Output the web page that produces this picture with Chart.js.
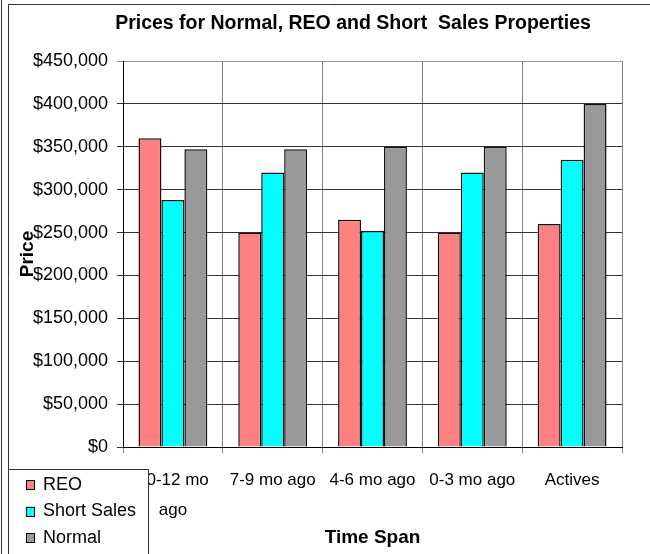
<!DOCTYPE html>
<html>
<head>
<meta charset="utf-8">
<script src="https://cdn.jsdelivr.net/npm/chart.js@4.4.1/dist/chart.umd.min.js"></script>
<style>
  html, body { margin: 0; padding: 0; background: #fff; }
</style>
</head>
<body>
<canvas id="chart" width="650" height="554"></canvas>
<script>
// Chart data
const chartTitle = "Prices for Normal, REO and Short  Sales Properties";
const categories = [["10-12 mo", "ago"], "7-9 mo ago", "4-6 mo ago", "0-3 mo ago", "Actives"];
const seriesNames = ["REO", "Short Sales", "Normal"];
const reoPrices = [360000, 250000, 265000, 250000, 260000];
const shortSalePrices = [288000, 320000, 252000, 320000, 335000];
const normalPrices = [347000, 347000, 350000, 350000, 400000];
const yMax = 450000;
const yStep = 50000;

const seriesColors = ["#ff8080", "#00ffff", "#999999"];
const fontFamily = '"Liberation Sans", Arial, sans-serif';

// Outer frame lines and the title (sits off-centre in the original)
const framePlugin = {
  id: "frame",
  beforeDraw(chart) {
    const ctx = chart.ctx;
    ctx.save();
    ctx.fillStyle = "#fff";
    ctx.fillRect(0, 0, chart.width, chart.height);
    ctx.strokeStyle = "#333";
    ctx.lineWidth = 1;
    ctx.beginPath();
    ctx.moveTo(1.5, 0);
    ctx.lineTo(1.5, chart.height);
    ctx.moveTo(8.5, chart.height);
    ctx.lineTo(8.5, 4.5);
    ctx.lineTo(chart.width, 4.5);
    ctx.stroke();
    ctx.fillStyle = "#000";
    ctx.font = "bold 19.5px " + fontFamily;
    ctx.textAlign = "center";
    ctx.textBaseline = "middle";
    ctx.fillText(chartTitle, 353, 24);
    ctx.restore();
  },
};

// Boxed legend in the lower left corner
const legendPlugin = {
  id: "boxLegend",
  afterDraw(chart) {
    const ctx = chart.ctx;
    ctx.save();
    ctx.fillStyle = "#fff";
    ctx.fillRect(9, 470, 139, 90);
    ctx.strokeStyle = "#333";
    ctx.lineWidth = 1;
    ctx.beginPath();
    ctx.moveTo(8.5, 469.5);
    ctx.lineTo(148.5, 469.5);
    ctx.lineTo(148.5, chart.height);
    ctx.stroke();
    ctx.font = "18px " + fontFamily;
    ctx.textBaseline = "middle";
    chart.data.datasets.forEach((ds, i) => {
      const y = 485 + i * 26.5;
      ctx.fillStyle = ds.backgroundColor;
      ctx.fillRect(26, y - 5, 9, 10);
      ctx.strokeStyle = "#000";
      ctx.strokeRect(26.5, Math.round(y - 5) + 0.5, 8, 9);
      ctx.fillStyle = "#000";
      ctx.fillText(ds.label, 43, y);
    });
    ctx.restore();
  },
};

new Chart(document.getElementById("chart"), {
  type: "bar",
  data: {
    labels: categories,
    datasets: [
      { label: seriesNames[0], data: reoPrices, backgroundColor: seriesColors[0] },
      { label: seriesNames[1], data: shortSalePrices, backgroundColor: seriesColors[1] },
      { label: seriesNames[2], data: normalPrices, backgroundColor: seriesColors[2] },
    ],
  },
  options: {
    responsive: false,
    animation: false,
    layout: { padding: { left: 16, right: 28, top: 61, bottom: 0 } },
    datasets: {
      bar: {
        categoryPercentage: 0.69,
        barPercentage: 1,
        borderWidth: 1.5,
        borderColor: "#111",
        borderSkipped: "start",
      },
    },
    plugins: {
      legend: { display: false },
      tooltip: { enabled: false },
      title: { display: false },
    },
    scales: {
      x: {
        grid: { color: "#808080", offset: true, tickLength: 6 },
        border: { color: "#000" },
        ticks: {
          color: "#000",
          font: { family: fontFamily, size: 17, lineHeight: 1.765 },
          padding: 12,
          maxRotation: 0,
          autoSkip: false,
        },
        title: {
          display: true,
          text: "Time Span",
          color: "#000",
          font: { family: fontFamily, size: 19, weight: "bold" },
          padding: { top: 0, bottom: 4.6 },
        },
        afterFit: (scale) => { scale.height = 107; },
      },
      y: {
        min: 0,
        max: yMax,
        grid: {
          color: (c) => (c.tick && c.tick.value === yMax ? "#999" : "#333"),
          tickLength: 6,
        },
        border: { color: "#000" },
        ticks: {
          stepSize: yStep,
          color: "#000",
          font: { family: fontFamily, size: 18 },
          padding: 9,
          callback: (v) => "$" + v.toLocaleString("en-US"),
        },
        title: {
          display: true,
          text: "Price",
          color: "#000",
          font: { family: fontFamily, size: 19, weight: "bold" },
          padding: { top: 0.6, bottom: 0 },
        },
        afterFit: (scale) => { scale.width = 107; },
      },
    },
  },
  plugins: [framePlugin, legendPlugin],
});
</script>
</body>
</html>
